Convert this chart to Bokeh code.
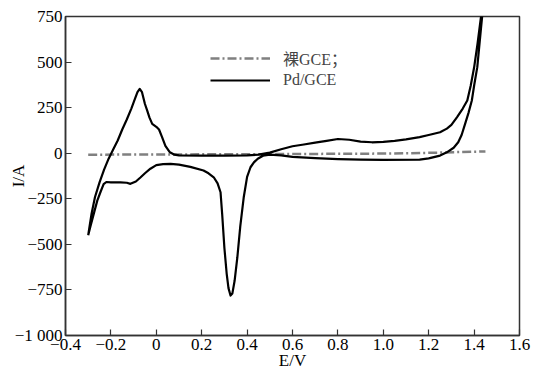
import math
from bokeh.plotting import figure
from bokeh.models import Range1d, FixedTicker, Legend, LegendItem
from bokeh.embed import file_html
from bokeh.resources import INLINE

# ---- data ----
pd_x = [-0.30, -0.285, -0.27, -0.25, -0.23, -0.21, -0.19, -0.17, -0.15, -0.13, -0.11, -0.095, -0.083, -0.073,
        -0.063, -0.05, -0.04, -0.03, -0.018, 0.0, 0.012, 0.025, 0.04, 0.06, 0.08, 0.10, 0.20, 0.30, 0.40, 0.45,
        0.50, 0.55, 0.60, 0.65, 0.70, 0.75, 0.80, 0.85, 0.90, 0.95, 1.00, 1.05, 1.10, 1.16, 1.20, 1.25, 1.28,
        1.30, 1.325, 1.35, 1.37, 1.385, 1.40, 1.415, 1.43, 1.437,
        1.43, 1.414, 1.40, 1.39, 1.375, 1.36, 1.345, 1.33, 1.31, 1.28, 1.25, 1.20, 1.16, 1.00, 0.90, 0.80, 0.70,
        0.60, 0.55, 0.50, 0.47, 0.447, 0.43, 0.415, 0.40, 0.385, 0.37, 0.357, 0.345, 0.335, 0.327, 0.318, 0.31,
        0.30, 0.29, 0.283, 0.27, 0.253, 0.23, 0.208, 0.15, 0.10, 0.063, 0.03, 0.0, -0.026, -0.05, -0.07, -0.09,
        -0.114, -0.13, -0.158, -0.20, -0.22, -0.232, -0.245, -0.26, -0.275, -0.29, -0.30]
pd_y = [-450, -330, -240, -160, -90, -30, 20, 70, 130, 185, 245, 295, 335, 353,
        335, 270, 234, 195, 161, 145, 130, 90, 40, 5, -8, -12, -13, -13, -12, -8,
        3, 22, 38, 48, 58, 68, 78, 74, 64, 60, 62, 68, 76, 88, 100, 115, 135,
        155, 198, 245, 289, 370, 470, 600, 745, 770,
        680, 472, 370, 289, 220, 160, 100, 60, 30, 5, -13, -28, -35, -36, -35, -32, -27,
        -20, -12, -8, -14, -30, -50, -77, -130, -243, -400, -572, -700, -770, -781, -740, -660,
        -520, -331, -214, -165, -132, -110, -95, -75, -63, -58, -60, -65, -85, -110, -133, -155,
        -168, -162, -160, -160, -158, -170, -210, -260, -330, -400, -450]

bare_x = [-0.30, 0.0, 0.5, 1.0, 1.2, 1.45]
bare_y = [-8, -7, -5, -2, 2, 10]

x_ticks = [-0.4, -0.2, 0.0, 0.2, 0.4, 0.6, 0.8, 1.0, 1.2, 1.4, 1.6]
x_tick_labels = ["\u22120.4", "\u22120.2", "0", "0.2", "0.4", "0.6", "0.8", "1.0", "1.2", "1.4", "1.6"]
y_ticks = [-1000, -750, -500, -250, 0, 250, 500, 750]
y_tick_labels = ["\u22121 000", "\u2212750", "\u2212500", "\u2212250", "0", "250", "500", "750"]

legend_labels = ["\u88f8GCE\uff1b", "Pd/GCE"]
x_title = "E/V"
y_title = "I/A"

FONT = "Liberation Serif, Noto Sans CJK SC"

p = figure(width=536, height=375, output_backend="svg", toolbar_location=None,
           x_range=Range1d(-0.4, 1.6), y_range=Range1d(-1000, 750),
           min_border_left=65, min_border_right=17, min_border_top=16, min_border_bottom=40)
p.grid.visible = False
p.outline_line_color = "#333333"
p.outline_line_width = 1.5
p.background_fill_color = "white"
p.border_fill_color = "white"

for ax in (p.xaxis[0], p.yaxis[0]):
    ax.major_tick_in = 6
    ax.major_tick_out = 0
    ax.minor_tick_in = 0
    ax.minor_tick_out = 0
    ax.axis_line_color = "#333333"
    ax.axis_line_width = 1.5
    ax.major_tick_line_color = "#333333"
    ax.major_tick_line_width = 1.2
    ax.major_label_text_font = FONT
    ax.major_label_text_font_size = "17px"
    ax.major_label_text_color = "black"
    ax.major_label_standoff = 3
    ax.axis_label_text_font = FONT
    ax.axis_label_text_font_size = "17px"
    ax.axis_label_text_font_style = "normal"
    ax.axis_label_text_color = "black"

p.xaxis.ticker = FixedTicker(ticks=x_ticks)
p.xaxis.major_label_overrides = {t: l for t, l in zip(x_ticks, x_tick_labels)}
p.yaxis.ticker = FixedTicker(ticks=y_ticks)
p.yaxis.major_label_overrides = {t: l for t, l in zip(y_ticks, y_tick_labels)}

p.xaxis.axis_label = x_title
p.xaxis.axis_label_standoff = -2
p.yaxis.axis_label = y_title
p.yaxis.axis_label_standoff = -16

r_bare = p.line(bare_x, bare_y, line_color="#808080", line_width=2.5, line_dash="9 3 2 3")
r_pd = p.line(pd_x, pd_y, line_color="black", line_width=2.2, line_join="round")

legend = Legend(items=[LegendItem(label=legend_labels[0], renderers=[r_bare]),
                       LegendItem(label=legend_labels[1], renderers=[r_pd])],
                location=(145, 245), border_line_color=None, background_fill_alpha=0,
                padding=0, spacing=0, margin=0, glyph_width=60, glyph_height=20,
                label_height=20, label_standoff=13,
                label_text_font=FONT, label_text_font_size="16px")
p.add_layout(legend, "center")

open("out.html", "w").write(file_html(p, INLINE))
